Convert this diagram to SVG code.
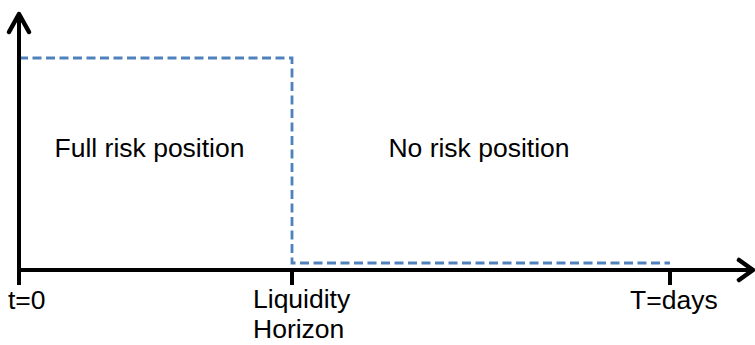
<svg xmlns="http://www.w3.org/2000/svg" width="755" height="345" viewBox="0 0 755 345">
<style>
.ax{fill:none;stroke:#000;stroke-width:4;stroke-linecap:butt}
.hd{fill:none;stroke:#000;stroke-width:4.5;stroke-linecap:round;stroke-linejoin:round}
.dash{fill:none;stroke:#4f81bd;stroke-width:2.8;stroke-dasharray:9 4.5}
.lbl{font-family:"Liberation Sans",Arial,sans-serif;font-size:26.5px;fill:#000}
</style>
<rect width="755" height="345" fill="#fff"/>
<g id="connectors">
<path class="dash" d="M19,58 H292 V263 H670"/>
<path class="ax" d="M19,285 V15"/>
<path class="hd" d="M9,32 L19,14 L29,32"/>
<path class="ax" d="M19,270 H752"/>
<path class="hd" d="M739,260 L753,270 L739,280"/>
<path class="ax" d="M292,270 V285 M670,270 V285"/>
</g>
<g id="full-risk"><text class="lbl" x="149.5" y="157" text-anchor="middle">Full risk position</text></g>
<g id="no-risk"><text class="lbl" x="479" y="157" text-anchor="middle">No risk position</text></g>
<g id="t0"><text class="lbl" x="8" y="309">t=0</text></g>
<g id="liquidity-horizon"><text class="lbl" x="253" y="308">Liquidity</text><text class="lbl" x="253" y="338">Horizon</text></g>
<g id="tdays"><text class="lbl" x="630" y="309">T=days</text></g>
</svg>
